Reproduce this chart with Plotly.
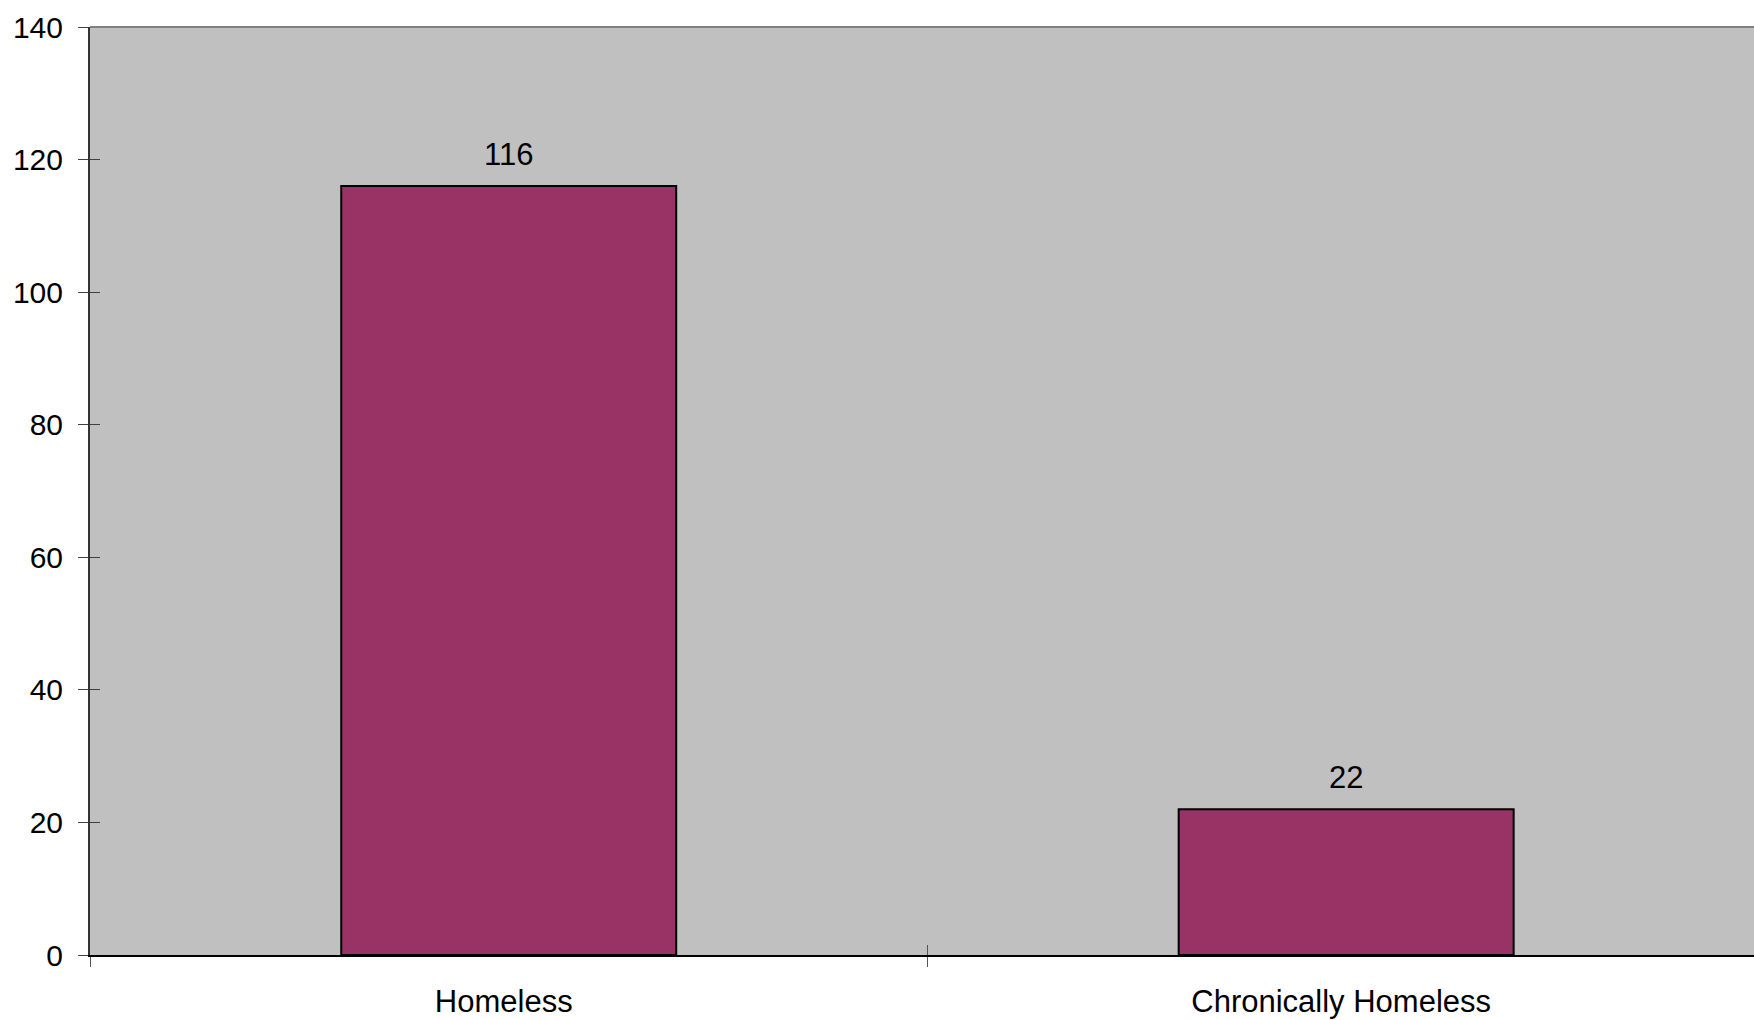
import plotly.graph_objects as go

categories = ["Homeless", "Chronically Homeless"]
values = [116, 22]
y_ticks = [0, 20, 40, 60, 80, 100, 120, 140]

BAR_COLOR = "#993366"
BG = "#C0C0C0"
FONT = "Liberation Sans, Arial, sans-serif"
X_RANGE = [-0.5, 1.487]

fig = go.Figure()
fig.add_trace(go.Bar(
    x=categories, y=values, width=0.4,
    marker=dict(color=BAR_COLOR, line=dict(color="black", width=2)),
    hoverinfo="skip",
))

for c, v in zip(categories, values):
    fig.add_annotation(x=c, y=v, text=str(v), showarrow=False,
                       yanchor="bottom", yshift=12,
                       font=dict(family=FONT, size=31, color="black"))

fig.update_layout(
    width=1754, height=1020,
    margin=dict(l=90, r=0, t=27, b=65),
    paper_bgcolor="white", plot_bgcolor=BG,
    showlegend=False,
    font=dict(family=FONT, size=30, color="black"),
    xaxis=dict(
        type="category", categoryorder="array", categoryarray=categories,
        range=X_RANGE, tickson="boundaries", ticks="outside", ticklen=10,
        tickwidth=1, tickcolor="#555555",
        showline=True, linecolor="black", linewidth=2, showgrid=False,
        ticklabelstandoff=18, ticklabelshift=-5, zeroline=False,
        tickfont=dict(family=FONT, size=31, color="black"),
    ),
    yaxis=dict(
        range=[0, 140], tickvals=y_ticks, ticks="outside", ticklen=10,
        tickwidth=1, tickcolor="#404040",
        showline=True, linecolor="#333333", linewidth=2, showgrid=False,
        zeroline=False, ticklabelstandoff=9,
        tickfont=dict(family=FONT, size=30, color="black"),
    ),
    xaxis2=dict(
        overlaying="x", anchor="y", range=X_RANGE,
        tickvals=[-0.5, 0.5], ticks="inside", ticklen=10,
        tickwidth=1, tickcolor="#555555", showticklabels=False,
        showgrid=False, zeroline=False, showline=False,
    ),
    yaxis2=dict(
        overlaying="y", anchor="x", side="left", range=[0, 140],
        tickvals=y_ticks, ticks="inside", ticklen=10,
        tickwidth=1, tickcolor="#404040", showticklabels=False,
        showgrid=False, zeroline=False, showline=False,
    ),
)

fig.add_trace(go.Scatter(x=[None], y=[None], xaxis="x2", yaxis="y2",
                         showlegend=False, hoverinfo="skip"))

fig.add_shape(type="line", xref="paper", yref="paper", x0=0, x1=1, y0=1, y1=1,
              line=dict(color="#808080", width=2))

fig.write_html(
    "out.html",
    config={"displayModeBar": False},
    post_script="document.body.style.margin='0';document.body.style.overflow='hidden';",
)
